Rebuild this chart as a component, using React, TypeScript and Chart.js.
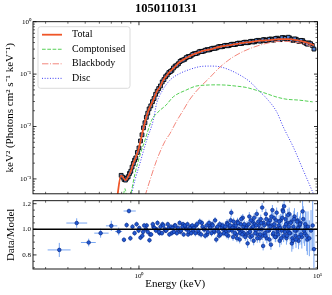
import React, { useEffect, useRef } from 'react';
import { Chart, registerables } from 'chart.js';

Chart.register(...registerables);

const FONT = "'Liberation Serif', 'Times New Roman', serif";

const titleText = '1050110131';
const topYLabel = 'keV² (Photons cm² s⁻¹ keV⁻¹)';
const botYLabel = 'Data/Model';
const xLabel = 'Energy (keV)';
const legendLabels = ['Total', 'Comptonised', 'Blackbody', 'Disc'];

// ---- model curves (energy keV, keV^2 flux) ----
const totalE = [0.752, 0.793, 0.842, 0.871, 0.899, 0.929, 0.962, 0.991, 1.02, 1.053, 1.08, 1.127, 1.203, 1.256, 1.311, 1.368, 1.459, 1.556, 1.697, 1.85, 2.015, 2.197, 2.499, 2.844, 3.235, 3.68, 4.187, 4.764, 5.42, 6.166, 6.862, 7.646, 8.511, 9.474, 9.55];
const totalF = [4.0e-4, 1.172e-3, 9.4e-4, 1.122e-3, 1.396e-3, 1.963e-3, 2.624e-3, 3.524e-3, 5.236e-3, 8.492e-3, 1.208e-2, 1.963e-2, 3.184e-2, 4.592e-2, 5.715e-2, 7.674e-2, 0.103, 0.1285, 0.1718, 0.2051, 0.2382, 0.2667, 0.2965, 0.3327, 0.3581, 0.3864, 0.4093, 0.4335, 0.4467, 0.4667, 0.4667, 0.4467, 0.4093, 0.3581, 0.351];

const compE = [0.812, 0.835, 0.853, 0.873, 0.899, 0.95, 1.013, 1.08, 1.178, 1.277, 1.417, 1.556, 1.834, 2.086, 2.376, 2.7, 3.072, 3.495, 3.976, 4.523, 5.146, 5.855, 6.661, 7.907, 9.4];
const compF = [3.98e-4, 6.53e-4, 4.68e-4, 3.89e-4, 5.08e-4, 1.262e-3, 2.825e-3, 5.47e-3, 1.318e-2, 1.875e-2, 2.553e-2, 3.681e-2, 4.943e-2, 5.902e-2, 6.166e-2, 6.237e-2, 6.166e-2, 5.902e-2, 5.572e-2, 4.943e-2, 4.276e-2, 3.681e-2, 3.327e-2, 3.184e-2, 2.951e-2];

const bbE = [1.08, 1.152, 1.256, 1.399, 1.492, 1.612, 1.771, 1.931, 2.197, 2.444, 2.844, 3.235, 3.68, 4.187, 4.764, 5.42, 6.166, 7.015, 7.98, 8.7, 9.44];
const bbF = [4.68e-4, 9.4e-4, 2.265e-3, 5.236e-3, 7.345e-3, 1.208e-2, 2.051e-2, 3.327e-2, 5.636e-2, 8.017e-2, 0.1361, 0.1936, 0.2523, 0.3076, 0.3581, 0.3999, 0.4217, 0.4178, 0.3917, 0.3664, 0.3281];

const discE = [0.902, 0.95, 1.013, 1.104, 1.203, 1.256, 1.34, 1.492, 1.697, 1.931, 2.197, 2.499, 2.844, 3.235, 3.68, 4.187, 4.658, 5.192, 5.908, 6.432, 7.316, 8.326, 9.474, 9.81];
const discF = [4.68e-4, 9.55e-4, 1.995e-3, 5.47e-3, 1.318e-2, 2.754e-2, 4.592e-2, 7.674e-2, 0.103, 0.123, 0.139, 0.1422, 0.138, 0.1191, 9.57e-2, 7.13e-2, 4.943e-2, 3.428e-2, 1.901e-2, 9.82e-3, 4.07e-3, 1.459e-3, 5.24e-4, 3.89e-4];

// ---- observed spectrum (top panel), two interleaved groups ----
const dataE = [0.795, 0.81, 0.825, 0.84, 0.855, 0.87, 0.885, 0.9, 0.915, 0.93, 0.945, 0.96, 0.98, 1.0, 1.02, 1.04, 1.06, 1.08, 1.1, 1.12, 1.14, 1.165, 1.19, 1.215, 1.24, 1.265, 1.29, 1.32, 1.35, 1.38, 1.41, 1.44, 1.47,
  1.5, 1.56, 1.63, 1.7, 1.77, 1.84, 1.92, 2.0, 2.08, 2.17, 2.26, 2.35, 2.45, 2.55, 2.66, 2.77, 2.89, 3.01, 3.14, 3.27, 3.41, 3.55, 3.7, 3.86, 4.02, 4.19, 4.36, 4.55, 4.74, 4.94, 5.15, 5.36, 5.59, 5.82, 6.07, 6.32, 6.59, 6.86, 7.15, 7.45, 7.76, 8.09, 8.43, 8.78, 9.15, 9.55];
const dataF = [1.17e-3, 1.08e-3, 0.98e-3, 0.95e-3, 1.03e-3, 1.10e-3, 1.27e-3, 1.40e-3, 1.68e-3, 1.97e-3, 2.28e-3, 2.52e-3, 3.20e-3, 3.90e-3, 5.30e-3, 6.95e-3, 9.45e-3, 1.18e-2, 1.50e-2, 1.80e-2, 2.17e-2, 2.48e-2, 2.98e-2, 3.42e-2, 4.12e-2, 4.72e-2, 5.30e-2, 5.95e-2, 7.08e-2, 7.85e-2, 8.92e-2, 9.65e-2, 0.107,
  0.112, 0.131, 0.148, 0.174, 0.186, 0.206, 0.217, 0.238, 0.246, 0.266, 0.27, 0.285, 0.289, 0.306, 0.31, 0.329, 0.332, 0.349, 0.347, 0.366, 0.366, 0.384, 0.383, 0.401, 0.397, 0.416, 0.411, 0.434, 0.427, 0.45, 0.436, 0.462, 0.447, 0.478, 0.458, 0.495, 0.48, 0.505, 0.452, 0.47, 0.43, 0.44, 0.405, 0.372, 0.38, 0.3];
const dataE2 = [1.53, 1.595, 1.665, 1.735, 1.805, 1.88, 1.96, 2.04, 2.125, 2.215, 2.305, 2.4, 2.5, 2.605, 2.715, 2.83, 2.95, 3.075, 3.205, 3.34, 3.48, 3.625, 3.78, 3.94, 4.105, 4.275, 4.455, 4.645, 4.84, 5.045, 5.255, 5.475, 5.705, 5.945, 6.195, 6.455, 6.725, 7.005, 7.3, 7.605, 7.925, 8.26, 8.605, 8.965, 9.35];
const dataF2 = [0.118, 0.142, 0.158, 0.183, 0.192, 0.215, 0.223, 0.245, 0.251, 0.272, 0.274, 0.292, 0.293, 0.312, 0.315, 0.336, 0.335, 0.354, 0.352, 0.372, 0.369, 0.391, 0.386, 0.407, 0.399, 0.423, 0.414, 0.441, 0.428, 0.455, 0.438, 0.468, 0.447, 0.485, 0.455, 0.498, 0.462, 0.488, 0.44, 0.462, 0.418, 0.436, 0.388, 0.395, 0.352];

// ---- residuals (bottom panel), two interleaved groups ----
const residE = [0.92, 0.945, 0.97, 0.995, 1.02, 1.045, 1.07, 1.095, 1.12, 1.145,
  1.17, 1.195, 1.22, 1.245, 1.27, 1.295, 1.32, 1.345, 1.37, 1.395,
  1.42, 1.45, 1.48, 1.51, 1.54, 1.57, 1.6, 1.63, 1.66, 1.69,
  1.72, 1.75, 1.78, 1.81, 1.84, 1.87, 1.9, 1.93, 1.96, 1.99,
  2.03, 2.07, 2.11, 2.15, 2.19, 2.23, 2.27, 2.31, 2.35, 2.39,
  2.43, 2.47, 2.51, 2.55, 2.59, 2.63, 2.67, 2.71, 2.75, 2.79,
  2.83, 2.87, 2.91, 2.95, 2.99,
  3.04, 3.09, 3.14, 3.19, 3.24, 3.29, 3.34, 3.39, 3.44, 3.49,
  3.54, 3.59, 3.64, 3.69, 3.74, 3.79, 3.84, 3.89, 3.94, 3.99,
  4.06, 4.12, 4.18, 4.24, 4.3, 4.36, 4.42, 4.48, 4.54, 4.6, 4.66, 4.72, 4.78, 4.84, 4.9, 4.96,
  5.03, 5.1, 5.17, 5.24, 5.31, 5.38, 5.45, 5.52, 5.59, 5.66, 5.73, 5.8, 5.87, 5.94,
  6.02, 6.1, 6.18, 6.26, 6.34, 6.42, 6.5, 6.58, 6.66, 6.74, 6.82, 6.9, 6.98,
  7.08, 7.18, 7.28, 7.38, 7.48, 7.58, 7.68, 7.78, 7.88, 7.98,
  8.1, 8.25, 8.4, 8.55, 8.7, 8.85, 9.0, 9.2, 9.4, 9.55];
const residR = [1.02, 0.97, 1.04, 0.99, 0.935, 0.95, 1.03, 1.0, 0.98, 0.915,
  0.96, 1.04, 1.01, 0.99, 1.05, 0.98, 1.02, 0.97, 1.03, 1.0,
  0.99, 1.04, 0.96, 1.02, 1.01, 0.98, 1.03, 0.97, 1.01, 1.05,
  0.99, 1.02, 0.96, 1.03, 1.0, 1.04, 0.98, 1.01, 0.97, 1.03,
  1.01, 0.97, 1.04, 0.99, 1.06, 0.96, 1.02, 1.0, 0.95, 1.03,
  0.98, 1.05, 1.01, 0.97, 1.03, 0.99, 1.07, 0.92, 1.02, 0.98,
  1.04, 0.96, 1.01, 1.03, 0.97,
  1.02, 0.96, 1.04, 0.99, 1.03, 1.13, 1.01, 1.06, 0.97, 1.03,
  0.93, 1.05, 1.0, 0.97, 1.08, 0.96, 1.02, 1.04, 0.94, 1.01,
  0.89, 1.04, 0.98, 1.07, 0.95, 1.02, 1.09, 0.97, 1.03, 0.93, 1.06, 1.0, 0.96, 1.05, 1.17, 0.87,
  1.03, 0.95, 1.08, 0.99, 1.05, 0.92, 1.02, 1.1, 1.15, 0.97, 1.04, 0.94, 1.07, 1.0,
  0.96, 1.06, 1.01, 0.93, 1.09, 1.14, 1.18, 0.98, 1.04, 0.95, 1.11, 1.02, 0.97,
  1.05, 0.89, 0.91, 1.08, 0.99, 0.92, 1.06, 1.01, 0.94, 1.04,
  0.96, 1.14, 0.99, 1.04, 0.95, 1.02, 0.93, 0.99, 1.03, 0.845];
const residErr = [0.02, 0.02, 0.02, 0.02, 0.02, 0.02, 0.02, 0.02, 0.02, 0.02,
  0.02, 0.02, 0.02, 0.02, 0.02, 0.02, 0.02, 0.02, 0.02, 0.02,
  0.02, 0.02, 0.02, 0.02, 0.02, 0.02, 0.02, 0.02, 0.02, 0.02,
  0.02, 0.02, 0.02, 0.02, 0.02, 0.02, 0.02, 0.02, 0.02, 0.02,
  0.025, 0.025, 0.025, 0.025, 0.025, 0.025, 0.025, 0.025, 0.025, 0.025,
  0.025, 0.025, 0.025, 0.025, 0.025, 0.025, 0.025, 0.025, 0.025, 0.025,
  0.025, 0.025, 0.025, 0.025, 0.025,
  0.03, 0.03, 0.03, 0.03, 0.03, 0.03, 0.03, 0.03, 0.03, 0.03,
  0.03, 0.03, 0.03, 0.03, 0.03, 0.03, 0.03, 0.03, 0.03, 0.03,
  0.035, 0.035, 0.035, 0.035, 0.035, 0.035, 0.035, 0.035, 0.035, 0.035, 0.035, 0.035, 0.035, 0.035, 0.035, 0.035,
  0.04, 0.04, 0.04, 0.04, 0.04, 0.04, 0.04, 0.04, 0.04, 0.04, 0.04, 0.04, 0.04, 0.04,
  0.05, 0.05, 0.05, 0.05, 0.05, 0.05, 0.05, 0.05, 0.05, 0.05, 0.05, 0.05, 0.05,
  0.065, 0.065, 0.065, 0.065, 0.065, 0.065, 0.065, 0.065, 0.065, 0.065,
  0.08, 0.09, 0.1, 0.1, 0.12, 0.12, 0.14, 0.16, 0.19, 0.15];

const residE2 = [1.005, 1.055, 1.105, 1.155, 1.205, 1.255, 1.305, 1.355, 1.405, 1.465, 1.525, 1.585, 1.645, 1.705, 1.765, 1.825, 1.885, 1.945,
  2.01, 2.09, 2.17, 2.25, 2.33, 2.41, 2.49, 2.57, 2.65, 2.73, 2.81, 2.89, 2.97,
  3.065, 3.115, 3.165, 3.215, 3.265, 3.315, 3.365, 3.415, 3.465, 3.515, 3.565, 3.615, 3.665, 3.715, 3.765, 3.815, 3.865, 3.915, 3.965,
  4.03, 4.09, 4.15, 4.21, 4.27, 4.33, 4.39, 4.45, 4.51, 4.57, 4.63, 4.69, 4.75, 4.81, 4.87, 4.93, 4.99,
  5.065, 5.135, 5.205, 5.275, 5.345, 5.415, 5.485, 5.555, 5.625, 5.695, 5.765, 5.835, 5.905, 5.975,
  6.06, 6.14, 6.22, 6.3, 6.38, 6.46, 6.54, 6.62, 6.7, 6.78, 6.86, 6.94,
  7.03, 7.13, 7.23, 7.33, 7.43, 7.53, 7.63, 7.73, 7.83, 7.93,
  8.03, 8.17, 8.32, 8.47, 8.62, 8.77];
const residR2 = [1.01, 0.98, 1.03, 0.96, 1.02, 1.0, 0.97, 1.04, 0.99, 1.01, 0.97, 1.03, 1.0, 0.98, 1.04, 1.01, 0.96, 1.02,
  0.99, 1.03, 0.97, 1.05, 1.0, 0.96, 1.02, 1.04, 0.98, 1.01, 0.95, 1.03, 1.0,
  0.98, 1.05, 0.95, 1.02, 1.07, 0.99, 0.94, 1.03, 1.01, 0.96, 1.06, 1.0, 0.92, 1.04, 0.98, 1.09, 0.97, 1.02, 0.95,
  1.03, 0.97, 1.1, 0.94, 1.01, 1.06, 0.91, 1.04, 0.99, 1.12, 0.96, 1.03, 0.93, 1.08, 1.0, 0.95, 1.05,
  0.97, 1.12, 0.93, 1.04, 0.99, 1.07, 0.88, 1.03, 0.96, 1.09, 1.01, 0.94, 1.13, 0.98,
  1.03, 0.91, 1.07, 0.99, 1.15, 0.95, 1.02, 1.08, 0.93, 1.05, 0.98, 1.12,
  0.97, 1.06, 0.93, 1.02, 1.1, 0.95, 0.99, 1.07, 0.91, 1.03,
  1.05, 0.94, 1.08, 0.97, 1.02, 0.92];
const residErr2 = [0.02, 0.02, 0.02, 0.02, 0.02, 0.02, 0.02, 0.02, 0.02, 0.02, 0.02, 0.02, 0.02, 0.02, 0.02, 0.02, 0.02, 0.02,
  0.025, 0.025, 0.025, 0.025, 0.025, 0.025, 0.025, 0.025, 0.025, 0.025, 0.025, 0.025, 0.025,
  0.03, 0.03, 0.03, 0.03, 0.03, 0.03, 0.03, 0.03, 0.03, 0.03, 0.03, 0.03, 0.03, 0.03, 0.03, 0.03, 0.03, 0.03, 0.03,
  0.035, 0.035, 0.035, 0.035, 0.035, 0.035, 0.035, 0.035, 0.035, 0.035, 0.035, 0.035, 0.035, 0.035, 0.035, 0.035, 0.035,
  0.04, 0.04, 0.04, 0.04, 0.04, 0.04, 0.04, 0.04, 0.04, 0.04, 0.04, 0.04, 0.04, 0.04,
  0.05, 0.05, 0.05, 0.05, 0.05, 0.05, 0.05, 0.05, 0.05, 0.05, 0.05, 0.05,
  0.065, 0.065, 0.065, 0.065, 0.065, 0.065, 0.065, 0.065, 0.065, 0.065,
  0.08, 0.09, 0.1, 0.1, 0.12, 0.12];

const lowE = [0.358, 0.448, 0.523, 0.61, 0.7, 0.77, 0.824, 0.853, 0.879, 0.895];
const lowR = [0.839, 1.049, 0.897, 0.97, 1.027, 0.983, 0.918, 1.033, 1.143, 0.93];
const lowXLo = [0.308, 0.392, 0.473, 0.562, 0.653, 0.735, 0.805, 0.84, 0.82, 0.88];
const lowXHi = [0.414, 0.513, 0.573, 0.676, 0.756, 0.805, 0.845, 0.868, 0.96, 0.912];
const lowErr = [0.055, 0.037, 0.03, 0.035, 0.04, 0.03, 0.02, 0.02, 0.018, 0.02];

// ---- axes ----
const xMinVal = 0.255;
const xMaxVal = 10;
const topYMin = 5.2e-4;
const topYMax = 1;
const botYMin = 0.69;
const botYMax = 1.2235;
const xMajorTicks = [1, 10];
const xMinorTicks = [0.3, 0.4, 0.5, 0.6, 0.7, 0.8, 0.9, 2, 3, 4, 5, 6, 7, 8, 9];
const topYMajorTicks = [0.001, 0.01, 0.1, 1];
const topYMinorTicks = [6e-4, 7e-4, 8e-4, 9e-4, 2e-3, 3e-3, 4e-3, 5e-3, 6e-3, 7e-3, 8e-3, 9e-3, 2e-2, 3e-2, 4e-2, 5e-2, 6e-2, 7e-2, 8e-2, 9e-2, 0.2, 0.3, 0.4, 0.5, 0.6, 0.7, 0.8, 0.9];
const botYMajorTicks = [0.8, 1.0, 1.2];
const botYMinorTicks = [0.7, 0.75, 0.85, 0.9, 0.95, 1.05, 1.1, 1.15];

const SUP: Record<string, string> = { '-': '⁻', '0': '⁰', '1': '¹', '2': '²', '3': '³', '4': '⁴', '5': '⁵', '6': '⁶', '7': '⁷', '8': '⁸', '9': '⁹' };
const powLabel = (v: number) => '10' + String(Math.round(Math.log10(v))).split('').map((c) => SUP[c]).join('');
const pts = (xs: number[], ys: number[]) => xs.map((x, i) => ({ x, y: ys[i] }));

function frameTicks(xMaj: number[], xMin: number[], yMaj: number[], yMin: number[]) {
  return {
    id: 'frameTicks',
    afterDatasetsDraw(chart: any) {
      const { ctx, chartArea: a } = chart;
      const xs = chart.scales.x;
      const ys = chart.scales.y;
      ctx.save();
      ctx.strokeStyle = '#000';
      const drawX = (vals: number[], len: number, lw: number) => {
        ctx.lineWidth = lw;
        ctx.beginPath();
        for (const v of vals) {
          const p = xs.getPixelForValue(v);
          if (p < a.left - 0.5 || p > a.right + 0.5) continue;
          ctx.moveTo(p, a.bottom);
          ctx.lineTo(p, a.bottom - len);
          ctx.moveTo(p, a.top);
          ctx.lineTo(p, a.top + len);
        }
        ctx.stroke();
      };
      const drawY = (vals: number[], len: number, lw: number) => {
        ctx.lineWidth = lw;
        ctx.beginPath();
        for (const v of vals) {
          const p = ys.getPixelForValue(v);
          if (p < a.top - 0.5 || p > a.bottom + 0.5) continue;
          ctx.moveTo(a.left, p);
          ctx.lineTo(a.left + len, p);
          ctx.moveTo(a.right, p);
          ctx.lineTo(a.right - len, p);
        }
        ctx.stroke();
      };
      drawX(xMaj, 3.5, 0.8);
      drawX(xMin, 2, 0.6);
      drawY(yMaj, 3.5, 0.8);
      drawY(yMin, 2, 0.6);
      ctx.lineWidth = 0.9;
      ctx.strokeRect(a.left, a.top, a.right - a.left, a.bottom - a.top);
      ctx.restore();
    },
  };
}

const insideLegend = {
  id: 'insideLegend',
  afterDraw(chart: any) {
    const { ctx, chartArea: a } = chart;
    const x0 = a.left + 5;
    const y0 = a.top + 5;
    const w = 92;
    const h = 61.6;
    ctx.save();
    ctx.beginPath();
    ctx.roundRect(x0, y0, w, h, 2.5);
    ctx.fillStyle = 'rgba(255,255,255,0.85)';
    ctx.fill();
    ctx.strokeStyle = '#d2d2d2';
    ctx.lineWidth = 0.8;
    ctx.stroke();
    ctx.font = `10px ${FONT}`;
    ctx.textBaseline = 'middle';
    legendLabels.forEach((lab, i) => {
      const ds = chart.data.datasets.find((d: any) => d.label === lab);
      const y = y0 + 8 + i * 14.55;
      ctx.strokeStyle = ds.borderColor;
      ctx.lineWidth = ds.borderWidth;
      ctx.setLineDash(ds.borderDash || []);
      ctx.beginPath();
      ctx.moveTo(x0 + 4, y);
      ctx.lineTo(x0 + 24, y);
      ctx.stroke();
      ctx.setLineDash([]);
      ctx.fillStyle = '#000';
      ctx.fillText(lab, x0 + 34, y);
    });
    ctx.restore();
  },
};

const residErrorBars = {
  id: 'residErrorBars',
  beforeDatasetsDraw(chart: any) {
    const { ctx, chartArea: a } = chart;
    const xs = chart.scales.x;
    const ys = chart.scales.y;
    ctx.save();
    ctx.beginPath();
    ctx.rect(a.left, a.top, a.right - a.left, a.bottom - a.top);
    ctx.clip();
    ctx.strokeStyle = '#78a6f2';
    ctx.lineWidth = 1;
    ctx.beginPath();
    const vbar = (e: number, r: number, err: number) => {
      const px = xs.getPixelForValue(e);
      ctx.moveTo(px, ys.getPixelForValue(r - err));
      ctx.lineTo(px, ys.getPixelForValue(r + err));
    };
    residE.forEach((e, i) => vbar(e, residR[i], residErr[i]));
    residE2.forEach((e, i) => vbar(e, residR2[i], residErr2[i]));
    lowE.forEach((e, i) => {
      vbar(e, lowR[i], lowErr[i]);
      const py = ys.getPixelForValue(lowR[i]);
      ctx.moveTo(xs.getPixelForValue(lowXLo[i]), py);
      ctx.lineTo(xs.getPixelForValue(lowXHi[i]), py);
    });
    ctx.stroke();
    ctx.restore();
  },
};

const rightPad = {
  type: 'linear',
  position: 'right',
  display: true,
  grid: { display: false, drawTicks: false },
  border: { display: false },
  ticks: { display: false },
  afterFit: (s: any) => { s.width = 14.5; },
};

const dataStyle = { showLine: false, pointStyle: 'rect', pointRadius: 2.7, pointBackgroundColor: '#4f80cf', pointBorderColor: '#000', pointBorderWidth: 0.9, order: 3 };
const residStyle = { showLine: false, pointRadius: 1.8, pointBackgroundColor: '#2159d2', pointBorderColor: '#0c2a85', pointBorderWidth: 0.7, order: 2 };

function TopChart() {
  const ref = useRef<HTMLCanvasElement>(null);
  useEffect(() => {
    const chart = new Chart(ref.current as HTMLCanvasElement, {
      type: 'scatter',
      data: {
        datasets: [
          { label: 'Total', data: pts(totalE, totalF), showLine: true, borderColor: '#ef5628', borderWidth: 1.8, pointRadius: 0, cubicInterpolationMode: 'monotone', order: 0 },
          { label: 'Comptonised', data: pts(compE, compF), showLine: true, borderColor: '#55d055', borderWidth: 1, borderDash: [3.7, 1.6], pointRadius: 0, cubicInterpolationMode: 'monotone', order: 1 },
          { label: 'Blackbody', data: pts(bbE, bbF), showLine: true, borderColor: '#f3877c', borderWidth: 1, borderDash: [6.4, 1.6, 1, 1.6], pointRadius: 0, cubicInterpolationMode: 'monotone', order: 1 },
          { label: 'Disc', data: pts(discE, discF), showLine: true, borderColor: '#3b3bf2', borderWidth: 1, borderDash: [1, 1.65], pointRadius: 0, cubicInterpolationMode: 'monotone', order: 1 },
          { label: 'Data', data: pts(dataE, dataF), ...dataStyle },
          { label: 'Data2', data: pts(dataE2, dataF2), ...dataStyle },
        ],
      } as any,
      options: {
        responsive: false,
        maintainAspectRatio: false,
        animation: false,
        events: [],
        layout: { padding: { left: 0, right: 0, top: 0, bottom: 5.7 } },
        plugins: {
          legend: { display: false },
          tooltip: { enabled: false },
          title: { display: true, text: titleText, color: '#000', font: { family: FONT, size: 12.5, weight: 'bold' }, padding: { top: 1.5, bottom: 5.2 } },
        },
        scales: {
          x: { type: 'logarithmic', min: xMinVal, max: xMaxVal, display: false },
          y: {
            type: 'logarithmic', min: topYMin, max: topYMax, position: 'left',
            grid: { display: false, drawTicks: false }, border: { display: false },
            afterBuildTicks: (s: any) => { s.ticks = topYMajorTicks.map((v) => ({ value: v })); },
            afterFit: (s: any) => { s.width = 33; },
            ticks: { callback: (v: any) => powLabel(Number(v)), font: { family: FONT, size: 7 }, color: '#000', padding: 2, autoSkip: false },
            title: { display: true, text: topYLabel, color: '#000', font: { family: FONT, size: 11 }, padding: { top: 3.4, bottom: 0 } },
          },
          yR: rightPad,
        },
      } as any,
      plugins: [frameTicks(xMajorTicks, xMinorTicks, topYMajorTicks, topYMinorTicks), insideLegend],
    });
    return () => chart.destroy();
  }, []);
  return <canvas ref={ref} width={332} height={200} style={{ position: 'absolute', left: 0, top: 0, width: 332, height: 200 }} />;
}

function BottomChart() {
  const ref = useRef<HTMLCanvasElement>(null);
  useEffect(() => {
    const chart = new Chart(ref.current as HTMLCanvasElement, {
      type: 'scatter',
      data: {
        datasets: [
          { label: 'unity', data: [{ x: xMinVal, y: 1 }, { x: xMaxVal, y: 1 }], showLine: true, borderColor: '#000', borderWidth: 1.4, pointRadius: 0, order: 0 },
          { label: 'resid', data: pts(residE, residR), ...residStyle },
          { label: 'resid2', data: pts(residE2, residR2), ...residStyle },
          { label: 'residLow', data: pts(lowE, lowR), ...residStyle },
        ],
      } as any,
      options: {
        responsive: false,
        maintainAspectRatio: false,
        animation: false,
        events: [],
        layout: { padding: { left: 0, right: 0, top: 10.7, bottom: 0 } },
        plugins: { legend: { display: false }, tooltip: { enabled: false } },
        scales: {
          x: {
            type: 'logarithmic', min: xMinVal, max: xMaxVal,
            grid: { display: false, drawTicks: false }, border: { display: false },
            afterBuildTicks: (s: any) => { s.ticks = xMajorTicks.map((v) => ({ value: v })); },
            afterFit: (s: any) => { s.height = 26; },
            ticks: { callback: (v: any) => powLabel(Number(v)), font: { family: FONT, size: 7 }, color: '#000', padding: 2.5, autoSkip: false, maxRotation: 0 },
            title: { display: true, text: xLabel, color: '#000', font: { family: FONT, size: 11 }, padding: { top: 0, bottom: 4 } },
          },
          y: {
            type: 'linear', min: botYMin, max: botYMax, position: 'left',
            grid: { display: false, drawTicks: false }, border: { display: false },
            afterBuildTicks: (s: any) => { s.ticks = botYMajorTicks.map((v) => ({ value: v })); },
            afterFit: (s: any) => { s.width = 33; },
            ticks: { callback: (v: any) => Number(v).toFixed(1), font: { family: FONT, size: 7 }, color: '#000', padding: 2, autoSkip: false },
            title: { display: true, text: botYLabel, color: '#000', font: { family: FONT, size: 11 }, padding: { top: 4.4, bottom: 0 } },
          },
          yR: rightPad,
        },
      } as any,
      plugins: [residErrorBars, frameTicks(xMajorTicks, xMinorTicks, botYMajorTicks, botYMinorTicks)],
    });
    return () => chart.destroy();
  }, []);
  return <canvas ref={ref} width={332} height={105} style={{ position: 'absolute', left: 0, top: 190, width: 332, height: 105 }} />;
}

export default function App() {
  return (
    <div style={{ position: 'absolute', left: 0, top: 0, width: 332, height: 295, background: '#fff' }}>
      <TopChart />
      <BottomChart />
    </div>
  );
}
